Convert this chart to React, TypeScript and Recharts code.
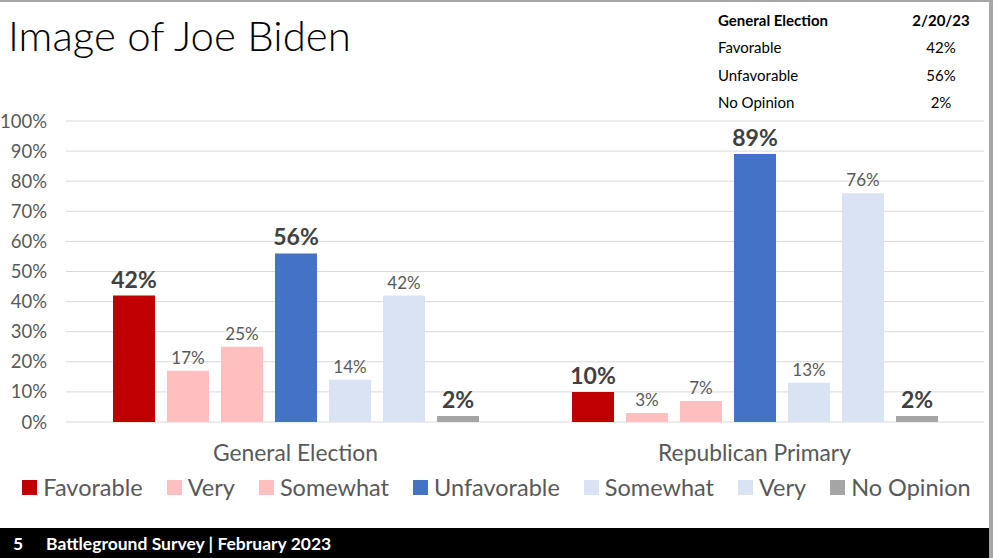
import { BarChart, Bar, XAxis, YAxis, CartesianGrid, LabelList, Legend } from 'recharts';

const FONT = 'Lato, "Liberation Sans", sans-serif';

const categories = ['General Election', 'Republican Primary'];
const favorable = [42, 10];
const favVery = [17, 3];
const favSomewhat = [25, 7];
const unfavorable = [56, 89];
const unfavSomewhat = [14, 13];
const unfavVery = [42, 76];
const noOpinion = [2, 2];
const yTicks = [0, 10, 20, 30, 40, 50, 60, 70, 80, 90, 100];

const seriesKeys = ['favorable', 'favVery', 'favSomewhat', 'unfavorable', 'unfavSomewhat', 'unfavVery', 'noOpinion'];
const seriesNames = ['Favorable', 'Very', 'Somewhat', 'Unfavorable', 'Somewhat', 'Very', 'No Opinion'];
const seriesColors = ['#C00000', '#FFBFBF', '#FFBFBF', '#4472C4', '#DAE3F3', '#DAE3F3', '#A5A5A5'];
const seriesBold = [true, false, false, true, false, false, true];

const tableHeader = ['General Election', '2/20/23'];
const tableLabels = ['Favorable', 'Unfavorable', 'No Opinion'];
const tableValues = ['42%', '56%', '2%'];

const data = categories.map((name, i) => ({
  name,
  favorable: favorable[i],
  favVery: favVery[i],
  favSomewhat: favSomewhat[i],
  unfavorable: unfavorable[i],
  unfavSomewhat: unfavSomewhat[i],
  unfavVery: unfavVery[i],
  noOpinion: noOpinion[i],
}));

function LegendBox() {
  return (
    <div style={{ display: 'flex', justifyContent: 'center', alignItems: 'center', gap: 24, height: 30, fontFamily: FONT, fontSize: 23.5, color: '#595959' }}>
      {seriesNames.map((n, i) => (
        <div key={i} style={{ display: 'flex', alignItems: 'center' }}>
          <span style={{ display: 'inline-block', width: 15, height: 15, background: seriesColors[i], marginRight: 6 }} />
          <span>{n}</span>
        </div>
      ))}
    </div>
  );
}

export default function App() {
  return (
    <div style={{ position: 'absolute', left: 0, top: 0, width: 993, height: 558, background: '#fff', overflow: 'hidden' }}>
      <div style={{ position: 'absolute', left: 0, top: 0, width: 993, height: 2, background: '#a6a6a6' }} />
      <div style={{ position: 'absolute', left: 989, top: 0, width: 4, height: 558, background: '#a6a6a6' }} />
      <div style={{ position: 'absolute', left: 8, top: 10, fontFamily: FONT, fontWeight: 300, fontSize: 42, color: '#000', lineHeight: '50px' }}>
        Image of Joe Biden
      </div>
      <div style={{ position: 'absolute', left: 718, top: 6.5, width: 270, fontFamily: FONT, fontSize: 15, color: '#000' }}>
        <div style={{ display: 'flex', height: 27.3, alignItems: 'center', fontWeight: 700 }}>
          <span style={{ width: 193 }}>{tableHeader[0]}</span>
          <span style={{ width: 60, textAlign: 'center' }}>{tableHeader[1]}</span>
        </div>
        {tableLabels.map((l, i) => (
          <div key={i} style={{ display: 'flex', height: 27.3, alignItems: 'center' }}>
            <span style={{ width: 193 }}>{l}</span>
            <span style={{ width: 60, textAlign: 'center' }}>{tableValues[i]}</span>
          </div>
        ))}
      </div>
      <div style={{ position: 'absolute', left: 0, top: 0 }}>
        <BarChart width={993} height={528} data={data} margin={{ top: 121, right: 9, left: 6, bottom: 26 }} barCategoryGap={47} barGap={12}>
          <CartesianGrid vertical={false} stroke="#d9d9d9" />
          <XAxis dataKey="name" axisLine={false} tickLine={false} tickSize={0} tickMargin={23} height={50}
            tick={{ fontSize: 22.8, fill: '#595959', fontFamily: FONT }} />
          <YAxis domain={[0, 100]} ticks={yTicks} tickFormatter={(v: number) => `${v}%`} axisLine={false} tickLine={false}
            width={60} tickSize={0} tickMargin={19} tick={{ fontSize: 18.5, fill: '#595959', fontFamily: FONT }} />
          <Legend content={() => <LegendBox />} wrapperStyle={{ position: 'absolute', left: 0, top: 472, width: 993, height: 30 }} />
          {seriesKeys.map((k, i) => (
            <Bar key={k} dataKey={k} name={seriesNames[i]} fill={seriesColors[i]} isAnimationActive={false}>
              <LabelList dataKey={k} position="top" offset={seriesBold[i] ? 8 : 7}
                formatter={(v: any) => `${v}%`}
                fill={seriesBold[i] ? '#404040' : '#595959'}
                fontSize={seriesBold[i] ? 23 : 17}
                fontWeight={seriesBold[i] ? 700 : 400}
                fontFamily={FONT} />
            </Bar>
          ))}
        </BarChart>
      </div>
      <div style={{ position: 'absolute', left: 0, top: 528, width: 989, height: 30, background: '#000', color: '#fff', fontFamily: FONT, fontWeight: 700, fontSize: 17.5, display: 'flex', alignItems: 'center' }}>
        <span style={{ marginLeft: 13, width: 33 }}>5</span>
        <span>Battleground Survey | February 2023</span>
      </div>
    </div>
  );
}
